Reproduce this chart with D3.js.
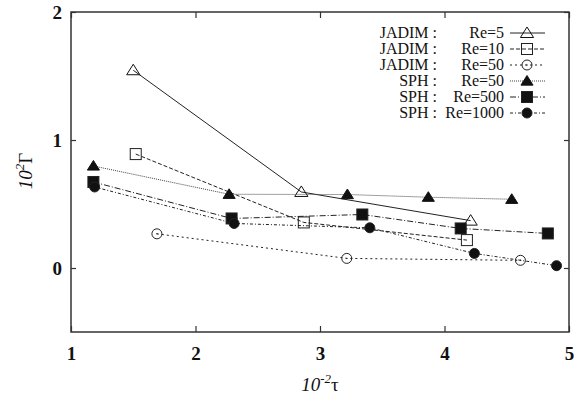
<!DOCTYPE html>
<html><head><meta charset="utf-8">
<script src="https://cdn.jsdelivr.net/npm/d3@7"></script>
<style>body{margin:0;background:#fff}svg{display:block}
svg text{font-family:"Liberation Serif","Times New Roman",Times,"DejaVu Serif",serif;}</style>
</head><body>
<svg id="c" width="575" height="404"></svg>
<script>
const xTicks = [1,2,3,4,5];
const yTicks = [0,1,2];
const seriesNames = ["JADIM :","JADIM :","JADIM :","SPH :","SPH :","SPH :"];
const seriesRe = ["Re=5","Re=10","Re=50","Re=50","Re=500","Re=1000"];
const jadim5X = [1.50, 2.85, 4.21];
const jadim5Y = [1.545, 0.594, 0.37];
const jadim10X = [1.52, 2.87, 4.18];
const jadim10Y = [0.89, 0.356, 0.218];
const jadim50X = [1.69, 3.215, 4.61];
const jadim50Y = [0.267, 0.075, 0.06];
const sph50X = [1.18, 2.27, 3.22, 3.87, 4.54];
const sph50Y = [0.797, 0.576, 0.574, 0.553, 0.537];
const sph500X = [1.18, 2.29, 3.34, 4.13, 4.83];
const sph500Y = [0.672, 0.387, 0.418, 0.309, 0.27];
const sph1000X = [1.19, 2.31, 3.40, 4.24, 4.90];
const sph1000Y = [0.633, 0.348, 0.314, 0.114, 0.018];

const series = [
  {x: jadim5X, y: jadim5Y, dash: null, sym: "triangle", fill: false, color:"#222"},
  {x: jadim10X, y: jadim10Y, dash: "4,2", sym: "square", fill: false, color:"#222"},
  {x: jadim50X, y: jadim50Y, dash: "2,3", sym: "circle", fill: false, color:"#222"},
  {x: sph50X, y: sph50Y, dash: "1,1", sym: "triangle", fill: true, color:"#444"},
  {x: sph500X, y: sph500Y, dash: "6,2,1,2", sym: "square", fill: true, color:"#222"},
  {x: sph1000X, y: sph1000Y, dash: "3,2,1,2", sym: "circle", fill: true, color:"#222"}
];

const svg = d3.select("#c");
const L = 71, R = 569, T = 12, B = 332;
const x = d3.scaleLinear().domain([1,5]).range([L,R]);
const y = d3.scaleLinear().domain([-0.5,2]).range([B,T]);

const font = "'Liberation Serif','Times New Roman',Times,'DejaVu Serif',serif";

svg.append("rect").attr("x",L).attr("y",T).attr("width",R-L).attr("height",B-T)
  .attr("fill","none").attr("stroke","#333").attr("stroke-width",1.5);

const gx = svg.append("g").attr("transform",`translate(0,${B})`)
  .call(d3.axisBottom(x).tickValues(xTicks).tickFormat(d3.format("d")).tickSize(-6).tickPadding(15));
const gxt = svg.append("g").attr("transform",`translate(0,${T})`)
  .call(d3.axisTop(x).tickValues(xTicks).tickFormat("").tickSize(-6));
const gy = svg.append("g").attr("transform",`translate(${L},0)`)
  .call(d3.axisLeft(y).tickValues(yTicks).tickFormat(d3.format("d")).tickSize(-5).tickPadding(9));
const gyr = svg.append("g").attr("transform",`translate(${R},0)`)
  .call(d3.axisRight(y).tickValues(yTicks).tickFormat("").tickSize(-5));
[gx,gxt,gy,gyr].forEach(g=>{
  g.attr("font-family",font);
  g.select(".domain").remove();
  g.selectAll(".tick line").attr("stroke","#333").attr("stroke-width",1.2);
  g.selectAll("text").attr("font-family",font).attr("font-weight","bold").attr("font-size",19).attr("fill","#111");
});
gx.selectAll("text").attr("dy","0.71em");

const xt = svg.append("text").attr("x",(L+R)/2).attr("y",391).attr("text-anchor","middle")
  .attr("font-family",font).attr("font-style","italic").attr("font-size",19).attr("fill","#111");
xt.append("tspan").text("10");
xt.append("tspan").attr("dy",-8).attr("font-size",13).text("-2");
xt.append("tspan").attr("dy",8).attr("font-style","normal").text("τ");

const yt = svg.append("text").attr("transform",`translate(32,${171}) rotate(-90)`).attr("text-anchor","middle")
  .attr("font-family",font).attr("font-style","italic").attr("font-size",19).attr("fill","#111");
yt.append("tspan").text("10");
yt.append("tspan").attr("dy",-8).attr("font-size",13).text("2");
yt.append("tspan").attr("dy",8).attr("font-style","normal").text("Γ");

const line = d3.line().x(d=>x(d[0])).y(d=>y(d[1]));

function symbol(g, s, cx, cy){
  const fill = s.fill ? "#111" : "none";
  if (s.sym === "triangle"){
    const sz = s.fill ? 5.5 : 6;
    g.append("path").attr("d",`M${cx},${cy-sz} L${cx+sz*1.1},${cy+sz*0.75} L${cx-sz*1.1},${cy+sz*0.75} Z`)
      .attr("fill",fill).attr("stroke", "#111").attr("stroke-width",1);
  } else if (s.sym === "square"){
    const sz = 5.5;
    g.append("rect").attr("x",cx-sz).attr("y",cy-sz).attr("width",2*sz).attr("height",2*sz)
      .attr("fill",fill).attr("stroke","#222").attr("stroke-width",1);
  } else {
    const r = 5;
    g.append("circle").attr("cx",cx).attr("cy",cy).attr("r",r)
      .attr("fill",fill).attr("stroke","#222").attr("stroke-width",1);
    if(!s.fill) g.append("circle").attr("cx",cx).attr("cy",cy).attr("r",0.7).attr("fill","#222");
  }
}

series.forEach(s=>{
  const pts = s.x.map((v,i)=>[v,s.y[i]]);
  svg.append("path").attr("d",line(pts)).attr("fill","none").attr("stroke",s.color)
    .attr("stroke-width",1).attr("stroke-dasharray",s.dash);
  const g = svg.append("g");
  pts.forEach(p=>symbol(g,s,x(p[0]),y(p[1])));
});

series.forEach((s,i)=>{
  const yy = 33 + i*16;
  svg.append("text").attr("x",437).attr("y",yy+5).attr("text-anchor","end")
    .attr("font-family",font).attr("font-size",16).attr("fill","#111").text(seriesNames[i]);
  svg.append("text").attr("x",504).attr("y",yy+5).attr("text-anchor","end")
    .attr("font-family",font).attr("font-size",16).attr("fill","#111").text(seriesRe[i]);
  svg.append("line").attr("x1",510).attr("x2",545).attr("y1",yy).attr("y2",yy)
    .attr("stroke",s.color).attr("stroke-width",1).attr("stroke-dasharray",s.dash);
  const g = svg.append("g");
  symbol(g,s,527,yy);
});
</script>
</body></html>
